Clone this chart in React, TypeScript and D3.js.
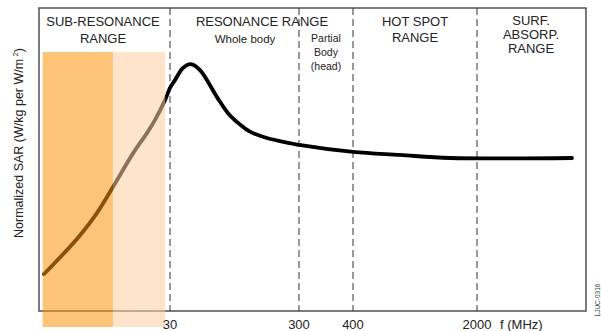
import React from "react";
import * as d3 from "d3";

const freqMHz = [3.28, 4.9, 6.2, 8.3, 11.0, 15.7, 20, 23, 27.5, 30, 32.8, 37.8, 43.6, 51.3, 69.4, 84.5, 105, 125, 169, 269, 300, 400, 736, 1410, 8130];
const sarValues = [0.122, 0.201, 0.251, 0.323, 0.409, 0.521, 0.587, 0.63, 0.696, 0.736, 0.762, 0.802, 0.815, 0.795, 0.706, 0.653, 0.615, 0.592, 0.571, 0.552, 0.548, 0.525, 0.515, 0.505, 0.505];

const boundaryFreqs = [30, 300, 400, 2000];
const tickLabels = ["30", "300", "400", "2000"];
const bandFreqs = [3.2, 11, 27.6];

const W = 601;
const H = 331;
const FONT = "'Liberation Sans', Arial, sans-serif";

export default function App() {
  const x = d3.scaleLog().domain([3, 30, 300, 400, 2000, 10000]).range([39, 170, 299, 353, 477, 586]);
  const y = d3.scaleLinear().domain([0, 1]).range([311, 8]);

  const pts: [number, number][] = freqMHz.map((f, i) => [x(f), y(sarValues[i])]);
  const line = d3.line().curve(d3.curveCatmullRom.alpha(0.5))(pts) || "";

  const left = x.range()[0];
  const right = x.range()[x.range().length - 1];
  const top = y(1);
  const bottom = y(0);
  const bandTop = 52;
  const bandBottom = 327;

  return (
    <svg width={W} height={H} style={{ position: "absolute", left: 0, top: 0, background: "#fff" }} fontFamily={FONT}>
      <rect x={0} y={0} width={W} height={H} fill="#fff" />
      <rect x={left} y={top} width={right - left} height={bottom - top} fill="none" stroke="#444" strokeWidth={1.4} />
      {boundaryFreqs.map((f) => (
        <line key={f} x1={x(f)} x2={x(f)} y1={top} y2={bottom} stroke="#333" strokeWidth={1} strokeDasharray="7,4" />
      ))}
      <path d={line} fill="none" stroke="#000" strokeWidth={3.8} strokeLinejoin="round" strokeLinecap="round" />
      <rect x={x(bandFreqs[0])} y={bandTop} width={x(bandFreqs[1]) - x(bandFreqs[0])} height={bandBottom - bandTop} fill="#fa940a" opacity={0.55} />
      <rect x={x(bandFreqs[1])} y={bandTop} width={x(bandFreqs[2]) - x(bandFreqs[1])} height={bandBottom - bandTop} fill="#fccea0" opacity={0.55} />
      {boundaryFreqs.map((f, i) => (
        <text key={f} x={x(f)} y={329} textAnchor="middle" fontSize={13} fill="#222">{tickLabels[i]}</text>
      ))}
      <text x={500} y={329} fontSize={13} fill="#222">f (MHz)</text>
      <text transform="translate(23,143) rotate(-90)" textAnchor="middle" fontSize={12.5} fill="#222">
        Normalized SAR (W/kg per W/m<tspan fontSize={8} dy={-5}> 2</tspan><tspan dy={5}>)</tspan>
      </text>
      <g fontSize={13} fill="#222" textAnchor="middle">
        <text x={103} y={26}>SUB-RESONANCE</text>
        <text x={103} y={43}>RANGE</text>
        <text x={262} y={26}>RESONANCE RANGE</text>
        <text x={415} y={26}>HOT SPOT</text>
        <text x={415} y={42}>RANGE</text>
        <text x={531} y={25}>SURF.</text>
        <text x={531} y={39}>ABSORP.</text>
        <text x={531} y={53}>RANGE</text>
      </g>
      <text x={245} y={43} fontSize={11.5} fill="#222" textAnchor="middle">Whole body</text>
      <g fontSize={10.5} fill="#222" textAnchor="middle">
        <text x={326} y={42}>Partial</text>
        <text x={326} y={56}>Body</text>
        <text x={326} y={70}>(head)</text>
      </g>
      <text transform="translate(600,300) rotate(-90)" textAnchor="middle" fontSize={6.5} fill="#444">LJUC-0316</text>
    </svg>
  );
}
